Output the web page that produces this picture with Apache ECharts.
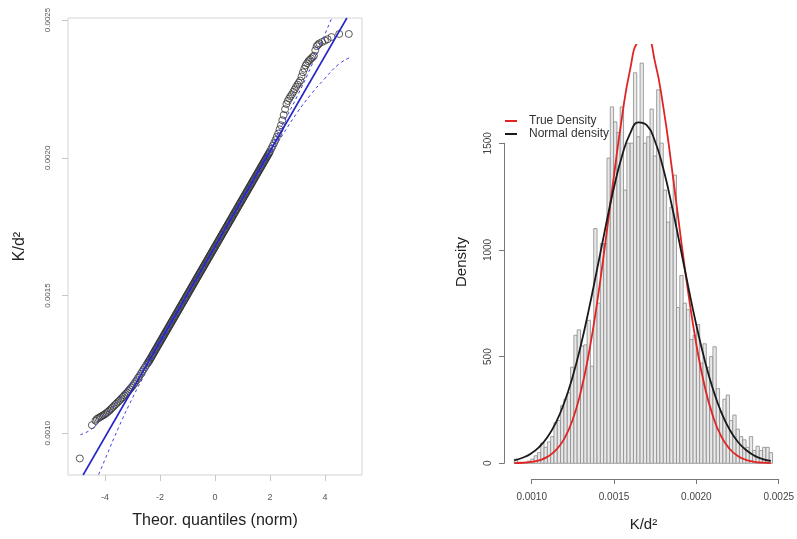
<!DOCTYPE html>
<html><head><meta charset="utf-8">
<script src="https://cdn.jsdelivr.net/npm/echarts@6/dist/echarts.min.js"></script>
<style>html,body{margin:0;padding:0;background:#fff}#c{width:797px;height:539px}</style>
</head><body><div id="c"></div>
<script>
// ---------- QQ plot data (theoretical quantile, sample quantile) ----------
const qqTheo = [-4.92,-4.48,-4.35,-4.30,-4.25,-4.20,-4.15,-4.10,-4.05,-4.00,-3.95,-3.90,-3.85,-3.80,-3.75,-3.70,-3.65,-3.60,-3.55,-3.50,-3.45,-3.40,-3.35,-3.30,-3.25,-3.20,-3.15,-3.10,-3.05,-3.00,-2.95,-2.90,-2.85,-2.80,-2.75,-2.70,-2.65,-2.60,-2.55,-2.50,-2.45,-2.425,
-2.400,-2.375,-2.350,-2.325,-2.300,-2.275,-2.250,-2.225,-2.200,-2.175,-2.150,-2.125,-2.100,-2.075,-2.050,-2.025,-2.000,-1.975,-1.950,-1.925,-1.900,-1.875,-1.850,-1.825,-1.800,-1.775,-1.750,-1.725,-1.700,-1.675,-1.650,-1.625,-1.600,-1.575,-1.550,-1.525,-1.500,-1.475,-1.450,-1.425,-1.400,-1.375,-1.350,-1.325,-1.300,-1.275,-1.250,-1.225,-1.200,-1.175,-1.150,-1.125,-1.100,-1.075,-1.050,-1.025,-1.000,-0.975,-0.950,-0.925,-0.900,-0.875,-0.850,-0.825,-0.800,-0.775,-0.750,-0.725,-0.700,-0.675,-0.650,-0.625,-0.600,-0.575,-0.550,-0.525,-0.500,-0.475,-0.450,-0.425,-0.400,-0.375,-0.350,-0.325,-0.300,-0.275,-0.250,-0.225,-0.200,-0.175,-0.150,-0.125,-0.100,-0.075,-0.050,-0.025,0.000,
0.025,0.050,0.075,0.100,0.125,0.150,0.175,0.200,0.225,0.250,0.275,0.300,0.325,0.350,0.375,0.400,0.425,0.450,0.475,0.500,0.525,0.550,0.575,0.600,0.625,0.650,0.675,0.700,0.725,0.750,0.775,0.800,0.825,0.850,0.875,0.900,0.925,0.950,0.975,1.000,1.025,1.050,1.075,1.100,1.125,1.150,1.175,1.200,1.225,1.250,1.275,1.300,1.325,1.350,1.375,1.400,1.425,1.450,1.475,1.500,1.525,1.550,1.575,1.600,1.625,1.650,1.675,1.700,1.725,1.750,1.775,1.800,1.825,1.850,1.875,1.900,
1.925,1.95,1.975,2.00,2.05,2.10,2.15,2.20,2.25,2.30,2.35,2.40,2.45,2.50,2.55,2.60,2.65,2.70,2.75,2.80,2.85,2.90,2.95,3.00,3.05,3.10,3.15,3.20,3.25,3.30,3.35,3.40,3.45,3.50,3.55,3.60,3.65,3.70,3.75,3.80,3.90,4.00,4.10,4.24,4.52,4.87];
const qqSample = [0.000909,0.001030,0.001046,0.001052,0.001055,0.001058,0.001061,0.001064,0.001067,0.001070,0.001074,0.001078,0.001082,0.001087,0.001092,0.001097,0.001102,0.001107,0.001112,0.001117,0.001122,0.001127,0.001132,0.001138,0.001143,0.001148,0.001154,0.001160,0.001166,0.001172,0.001179,0.001186,0.001193,0.001201,0.001208,0.001216,0.001224,0.001232,0.001240,0.001248,0.001255,0.001259,
0.00126252,0.00126684,0.00127116,0.00127547,0.00127979,0.00128411,0.00128843,0.00129274,0.00129706,0.00130138,0.00130570,0.00131001,0.00131433,0.00131865,0.00132297,0.00132728,0.00133160,0.00133592,0.00134024,0.00134455,0.00134887,0.00135319,0.00135751,0.00136182,0.00136614,0.00137046,0.00137478,0.00137909,0.00138341,0.00138773,0.00139205,0.00139636,0.00140068,0.00140500,0.00140932,0.00141363,0.00141795,0.00142227,0.00142659,0.00143090,0.00143522,0.00143954,0.00144386,0.00144817,0.00145249,0.00145681,0.00146113,0.00146544,0.00146976,0.00147408,0.00147840,0.00148271,0.00148703,0.00149135,0.00149567,0.00149998,0.00150430,0.00150862,0.00151294,0.00151725,0.00152157,0.00152589,0.00153021,0.00153452,0.00153884,0.00154316,0.00154748,0.00155179,0.00155611,0.00156043,0.00156475,0.00156906,0.00157338,0.00157770,0.00158202,0.00158633,0.00159065,0.00159497,0.00159929,0.00160360,0.00160792,0.00161224,0.00161656,0.00162087,0.00162519,0.00162951,0.00163383,0.00163814,0.00164246,0.00164678,0.00165110,0.00165541,0.00165973,0.00166405,0.00166837,0.00167268,0.00167700,
0.00168132,0.00168564,0.00168995,0.00169427,0.00169859,0.00170291,0.00170722,0.00171154,0.00171586,0.00172018,0.00172449,0.00172881,0.00173313,0.00173745,0.00174176,0.00174608,0.00175040,0.00175472,0.00175903,0.00176335,0.00176767,0.00177199,0.00177630,0.00178062,0.00178494,0.00178926,0.00179357,0.00179789,0.00180221,0.00180653,0.00181084,0.00181516,0.00181948,0.00182380,0.00182811,0.00183243,0.00183675,0.00184107,0.00184538,0.00184970,0.00185402,0.00185834,0.00186265,0.00186697,0.00187129,0.00187561,0.00187992,0.00188424,0.00188856,0.00189288,0.00189719,0.00190151,0.00190583,0.00191015,0.00191446,0.00191878,0.00192310,0.00192742,0.00193173,0.00193605,0.00194037,0.00194469,0.00194900,0.00195332,0.00195764,0.00196196,0.00196627,0.00197059,0.00197491,0.00197923,0.00198354,0.00198786,0.00199218,0.00199650,0.00200081,0.00200513,
0.0020096,0.002014,0.002018,0.002023,0.002033,0.002043,0.002053,0.002064,0.002076,0.002088,0.002103,0.002118,0.002136,0.002155,0.002176,0.002195,0.002206,0.002215,0.002223,0.002230,0.002239,0.002248,0.002257,0.002265,0.002272,0.002280,0.002295,0.002310,0.002323,0.002335,0.002343,0.002350,0.002355,0.002360,0.002365,0.002370,0.002390,0.002405,0.002410,0.002415,0.002420,0.002425,0.002430,0.002438,0.002449,0.002449];
const qqLineTheo = [-4.8, 4.8];
const qqLineSample = [0.000849, 0.002507];
const envTheo  = [-4.9,-4.5,-4.0,-3.5,-3.0,-2.5,-2.0,-1.0,0,1.0,2.0,2.5,3.0,3.5,4.0,4.5,4.9];
const envUpper = [0.000995,0.001015,0.001066,0.001123,0.001189,0.001265,0.001344,0.001510,0.001681,0.001856,0.002034,0.002129,0.002225,0.002331,0.002448,0.002569,0.002683];
const envLower = [0.000667,0.000785,0.000906,0.001023,0.001129,0.001225,0.001320,0.001498,0.001673,0.001844,0.002010,0.002089,0.002165,0.002231,0.002288,0.002339,0.002363];
const qqXTicks = [-4,-2,0,2,4];
const qqYTicks = [0.0010,0.0015,0.0020,0.0025];

// ---------- Histogram data ----------
const histBinStart = 0.0009;
const histBinWidth = 0.00002;
const histDensity = [20,5,3,5,10,20,35,50,95,75,100,125,190,200,270,300,330,450,600,625,550,555,670,455,1100,750,1030,1030,
1430,1670,1600,1550,1670,1280,1500,1500,1830,1530,1875,1500,1530,1660,1440,1750,1500,1280,1130,1200,1350,730,
880,750,720,580,600,650,470,560,450,500,546,350,240,300,320,200,226,160,125,110,75,125,60,80,60,75,75,50];
const densX = [0.00090,0.00095,0.00100,0.00105,0.00110,0.00115,0.00120,0.00125,0.00130,0.00135,0.00140,0.00145,0.00150,0.00155,0.00160,0.00165,0.00170,0.00175,0.00180,0.00185,0.00190,0.00195,0.00200,0.00205,0.00210,0.00215,0.00220,0.00225,0.00230,0.00235,0.00240,0.00245];
const trueDensity = [1.0,2.6,6.2,14,30,60,112,198,329,513,751,1033,1334,1619,1846,1978,1990,1881,1671,1394,1092,804,556,361,221,126,68,34,16,7,3,1.2];
const normalDensity = [14,26,45,76,122,188,280,399,546,719,908,1102,1285,1438,1546,1597,1584,1509,1381,1214,1025,831,647,484,348,240,159,101,62,36,20,11];
const histXTicks = [0.0010,0.0015,0.0020,0.0025];
const histYTicks = [0,500,1000,1500];

const FONT = 'Liberation Sans, Arial, sans-serif';
const zip = (a,b) => a.map((v,i)=>[v,b[i]]);
const histData = histDensity.map((h,i)=>[histBinStart+i*histBinWidth, histBinStart+(i+1)*histBinWidth, h]);
const hidden = {axisLine:{show:false},axisTick:{show:false},axisLabel:{show:false},splitLine:{show:false}};

const chart = echarts.init(document.getElementById('c'), null, {renderer:'canvas'});
chart.setOption({
  animation:false,
  backgroundColor:'#fff',
  grid:[
    {left:68, top:18, width:294, height:457, show:true, borderColor:'#d4d4d4', borderWidth:1, backgroundColor:'transparent'},
    {left:105, top:18, width:220, height:457},
    {left:68, top:20, width:294, height:413.3},
    {left:504, top:45, width:278.8, height:434},
    {left:531.7, top:45, width:247.3, height:434},
    {left:504, top:143.3, width:278.8, height:320}
  ],
  xAxis:[
    {gridIndex:0, type:'value', min:-5.35, max:5.35, ...hidden,
     name:'Theor. quantiles (norm)', nameLocation:'middle', nameGap:38, nameTextStyle:{fontFamily:FONT, fontSize:16, color:'#222'}},
    {gridIndex:1, type:'value', min:qqXTicks[0], max:qqXTicks[qqXTicks.length-1], interval:qqXTicks[1]-qqXTicks[0],
     axisLine:{show:false, onZero:false}, axisTick:{show:true, length:6, lineStyle:{color:'#c8c8c8'}},
     axisLabel:{fontFamily:FONT, fontSize:9, color:'#555', margin:18}, splitLine:{show:false}},
    {gridIndex:2, type:'value', show:false},
    {gridIndex:3, type:'value', min:0.000838, max:0.002522, ...hidden,
     name:'K/d²', nameLocation:'middle', nameGap:38, nameTextStyle:{fontFamily:FONT, fontSize:15, color:'#222'}},
    {gridIndex:4, type:'value', min:histXTicks[0], max:histXTicks[histXTicks.length-1], interval:0.0005,
     axisLine:{show:true, onZero:false, lineStyle:{color:'#777', width:1}}, axisTick:{show:true, length:5, lineStyle:{color:'#777'}},
     axisLabel:{fontFamily:FONT, fontSize:10, color:'#444', margin:13, formatter:v=>v.toFixed(4)}, splitLine:{show:false}},
    {gridIndex:5, type:'value', show:false}
  ],
  yAxis:[
    {gridIndex:0, type:'value', min:0.000849, max:0.002507, ...hidden,
     name:'K/d²', nameLocation:'middle', nameRotate:90, nameGap:40, nameTextStyle:{fontFamily:FONT, fontSize:16, color:'#222'}},
    {gridIndex:1, type:'value', show:false},
    {gridIndex:2, type:'value', min:qqYTicks[0], max:qqYTicks[qqYTicks.length-1], interval:0.0005,
     axisLine:{show:false, onZero:false}, axisTick:{show:true, length:6, lineStyle:{color:'#c8c8c8'}},
     axisLabel:{fontFamily:FONT, fontSize:8, color:'#555', margin:16, rotate:90, formatter:v=>v.toFixed(4)}, splitLine:{show:false}},
    {gridIndex:3, type:'value', min:-73.6, max:1960, ...hidden,
     name:'Density', nameLocation:'middle', nameRotate:90, nameGap:35, nameTextStyle:{fontFamily:FONT, fontSize:15, color:'#222', padding:[0,0,0,0]}},
    {gridIndex:4, type:'value', show:false},
    {gridIndex:5, type:'value', min:histYTicks[0], max:histYTicks[histYTicks.length-1], interval:histYTicks[1]-histYTicks[0],
     axisLine:{show:true, onZero:false, lineStyle:{color:'#777', width:1}}, axisTick:{show:true, length:5, lineStyle:{color:'#777'}},
     axisLabel:{fontFamily:FONT, fontSize:10, color:'#444', margin:11, rotate:90, formatter:v=>String(v)}, splitLine:{show:false}}
  ],
  legend:{
    orient:'vertical', left:500, top:110, itemWidth:12, itemHeight:2, itemGap:1, icon:'rect',
    textStyle:{fontFamily:FONT, fontSize:12, color:'#333', padding:[0,0,0,7]},
    data:['True Density','Normal density']
  },
  series:[
    {type:'scatter', xAxisIndex:0, yAxisIndex:0, data:zip(qqTheo,qqSample), symbol:'circle', symbolSize:7,
     itemStyle:{color:'rgba(0,0,0,0)', borderColor:'#333', borderWidth:1}, z:2, silent:true},
    {type:'line', xAxisIndex:0, yAxisIndex:0, data:zip(envTheo,envUpper), smooth:true, symbol:'none',
     lineStyle:{color:'#4040e0', width:1, type:[3,3]}, z:3},
    {type:'line', xAxisIndex:0, yAxisIndex:0, data:zip(envTheo,envLower), smooth:true, symbol:'none',
     lineStyle:{color:'#4040e0', width:1, type:[3,3]}, z:3},
    {type:'line', xAxisIndex:0, yAxisIndex:0, data:zip(qqLineTheo,qqLineSample), symbol:'none',
     lineStyle:{color:'#2525c8', width:1.6}, z:4},
    {type:'custom', xAxisIndex:3, yAxisIndex:3, data:histData, encode:{x:[0,1], y:2},
     renderItem:(params, api)=>{
       const p0 = api.coord([api.value(0), api.value(2)]);
       const p1 = api.coord([api.value(1), 0]);
       return {type:'rect', shape:{x:p0[0], y:p0[1], width:p1[0]-p0[0], height:p1[1]-p0[1]},
               style:{fill:'#e8e8e8', stroke:'#8a8a8a', lineWidth:0.8}};
     }, z:2},
    {name:'True Density', type:'line', xAxisIndex:3, yAxisIndex:3, data:zip(densX,trueDensity), smooth:true, symbol:'none',
     lineStyle:{color:'#e02424', width:1.8}, itemStyle:{color:'#e02424'}, z:4},
    {name:'Normal density', type:'line', xAxisIndex:3, yAxisIndex:3, data:zip(densX,normalDensity), smooth:true, symbol:'none',
     lineStyle:{color:'#1a1a1a', width:1.8}, itemStyle:{color:'#1a1a1a'}, z:5}
  ]
});
</script>
</body></html>
